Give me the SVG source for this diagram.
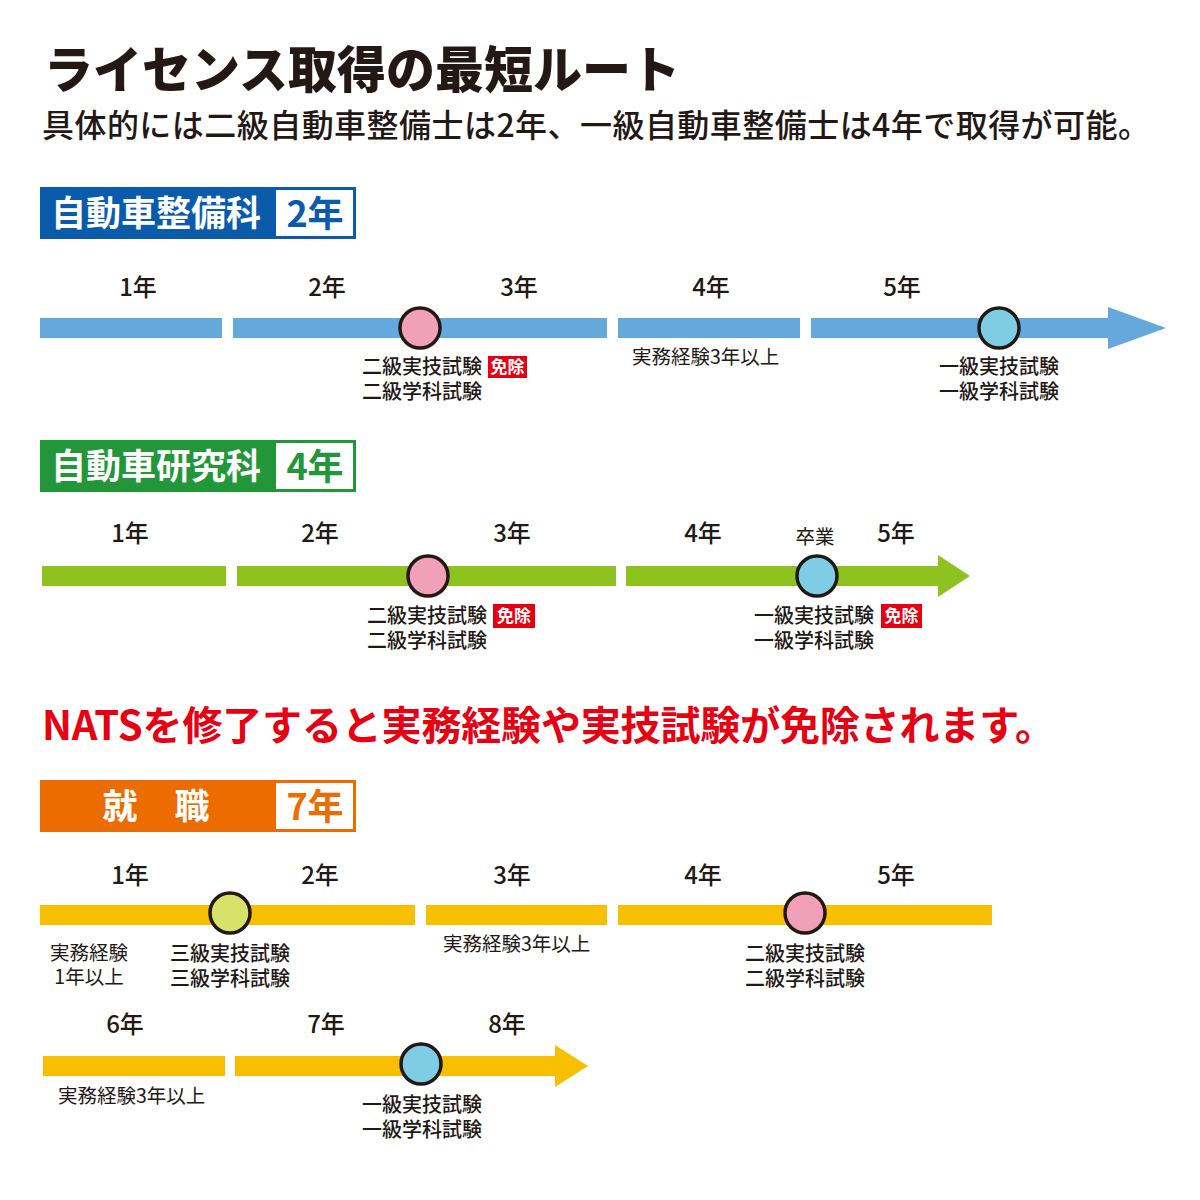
<svg xmlns="http://www.w3.org/2000/svg" width="1200" height="1200" viewBox="0 0 1200 1200">
<style>
text{font-family:"Noto Sans CJK JP","Noto Sans",sans-serif;fill:#231815}
.title{font-size:50px;font-weight:900}
.sub{font-size:32px;font-weight:500}
.hd{font-size:35px;font-weight:700;fill:#fff}
.hy{font-size:36px;font-weight:700;text-anchor:middle}
.yr{font-size:24px;font-weight:500;text-anchor:middle}
.lb{font-size:20px;font-weight:500}
.sm{font-size:19.5px;font-weight:400}
.ex{font-size:17px;font-weight:700;fill:#fff;text-anchor:middle}
.red{font-size:40px;font-weight:700;fill:#E60012}
.c{stroke:#231815;stroke-width:3.5}
.blue{fill:#64A8DC}.green{fill:#8DC21F}.yel{fill:#F8BE00}
</style>
<rect width="1200" height="1200" fill="#fff"/>
<text class="title" x="44" y="88" textLength="636" lengthAdjust="spacingAndGlyphs">ライセンス取得の最短ルート</text>
<text class="sub" x="42" y="137" textLength="1108" lengthAdjust="spacing">具体的には二級自動車整備士は2年、一級自動車整備士は4年で取得が可能。</text>

<g id="header1">
<rect x="40" y="187" width="316" height="52" fill="#0A5BAA"/>
<rect x="276" y="190" width="77" height="46" fill="#fff"/>
<text class="hd" x="51" y="226">自動車整備科</text>
<text class="hy" x="315" y="227" style="fill:#0A5BAA">2年</text>
</g>

<g id="connectors">
<rect class="blue" x="40" y="318" width="182" height="20"/>
<rect class="blue" x="233" y="318" width="374" height="20"/>
<rect class="blue" x="618" y="318" width="182" height="20"/>
<rect class="blue" x="811" y="318" width="304" height="20"/>
<polygon class="blue" points="1108,307 1166,328 1108,349"/>
<rect class="green" x="42" y="566" width="184" height="20"/>
<rect class="green" x="237" y="566" width="379" height="20"/>
<rect class="green" x="626" y="566" width="316" height="20"/>
<polygon class="green" points="938,555 970,576 938,597"/>
<rect class="yel" x="40" y="905" width="375" height="20"/>
<rect class="yel" x="426" y="905" width="181" height="20"/>
<rect class="yel" x="618" y="905" width="374" height="20"/>
<rect class="yel" x="43" y="1056" width="182" height="20"/>
<rect class="yel" x="235" y="1056" width="323" height="20"/>
<polygon class="yel" points="555,1045 588,1066 555,1087"/>
</g>

<g id="timeline1">
<text class="yr" x="138" y="296">1年</text>
<text class="yr" x="327" y="296">2年</text>
<text class="yr" x="519" y="296">3年</text>
<text class="yr" x="711" y="296">4年</text>
<text class="yr" x="902" y="296">5年</text>
<circle class="c" cx="420" cy="328" r="20" fill="#F0A0B8"/>
<circle class="c" cx="999" cy="328" r="20" fill="#7ECDE4"/>
<text class="lb" x="362" y="374">二級実技試験</text>
<rect x="488" y="356" width="39" height="22" fill="#E60012"/>
<text class="ex" x="507.5" y="373">免除</text>
<text class="lb" x="362" y="399">二級学科試験</text>
<text class="sm" x="632" y="364">実務経験3年以上</text>
<text class="lb" x="939" y="374">一級実技試験</text>
<text class="lb" x="939" y="399">一級学科試験</text>
</g>

<g id="header2">
<rect x="40" y="440" width="316" height="52" fill="#23963A"/>
<rect x="276" y="443" width="77" height="46" fill="#fff"/>
<text class="hd" x="51" y="479">自動車研究科</text>
<text class="hy" x="315" y="480" style="fill:#23963A">4年</text>
</g>

<g id="timeline2">
<text class="yr" x="130" y="542">1年</text>
<text class="yr" x="320" y="542">2年</text>
<text class="yr" x="512" y="542">3年</text>
<text class="yr" x="703" y="542">4年</text>
<text class="yr" x="896" y="542">5年</text>
<text class="sm" x="815" y="544" text-anchor="middle">卒業</text>
<circle class="c" cx="428" cy="576" r="20" fill="#F0A0B8"/>
<circle class="c" cx="817" cy="576" r="20" fill="#7ECDE4"/>
<text class="lb" x="367" y="623">二級実技試験</text>
<rect x="493" y="604" width="42" height="24" fill="#E60012"/>
<text class="ex" x="514" y="622">免除</text>
<text class="lb" x="367" y="648">二級学科試験</text>
<text class="lb" x="754" y="623">一級実技試験</text>
<rect x="881" y="604" width="41" height="24" fill="#E60012"/>
<text class="ex" x="901.5" y="622">免除</text>
<text class="lb" x="754" y="648">一級学科試験</text>
</g>

<text class="red" x="42" y="740" textLength="1013" lengthAdjust="spacing">NATSを修了すると実務経験や実技試験が免除されます。</text>

<g id="header3">
<rect x="40" y="780" width="316" height="52" fill="#EC6C00"/>
<rect x="276" y="783" width="77" height="46" fill="#fff"/>
<text class="hd" x="120" y="819" text-anchor="middle">就</text>
<text class="hd" x="192" y="819" text-anchor="middle">職</text>
<text class="hy" x="315" y="820" style="fill:#EC6C00">7年</text>
</g>

<g id="timeline3">
<text class="yr" x="130" y="884">1年</text>
<text class="yr" x="320" y="884">2年</text>
<text class="yr" x="512" y="884">3年</text>
<text class="yr" x="703" y="884">4年</text>
<text class="yr" x="896" y="884">5年</text>
<circle class="c" cx="230" cy="913" r="20" fill="#D8E26A"/>
<circle class="c" cx="805" cy="913" r="20" fill="#F0A0B8"/>
<text class="sm" x="89" y="960" text-anchor="middle">実務経験</text>
<text class="sm" x="89" y="984" text-anchor="middle">1年以上</text>
<text class="lb" x="170" y="961">三級実技試験</text>
<text class="lb" x="170" y="986">三級学科試験</text>
<text class="sm" x="443" y="951">実務経験3年以上</text>
<text class="lb" x="745" y="961">二級実技試験</text>
<text class="lb" x="745" y="986">二級学科試験</text>
<text class="yr" x="125" y="1033">6年</text>
<text class="yr" x="326" y="1033">7年</text>
<text class="yr" x="507" y="1033">8年</text>
<circle class="c" cx="421" cy="1064" r="20" fill="#7ECDE4"/>
<text class="sm" x="58" y="1103">実務経験3年以上</text>
<text class="lb" x="362" y="1112">一級実技試験</text>
<text class="lb" x="362" y="1137">一級学科試験</text>
</g>
</svg>
